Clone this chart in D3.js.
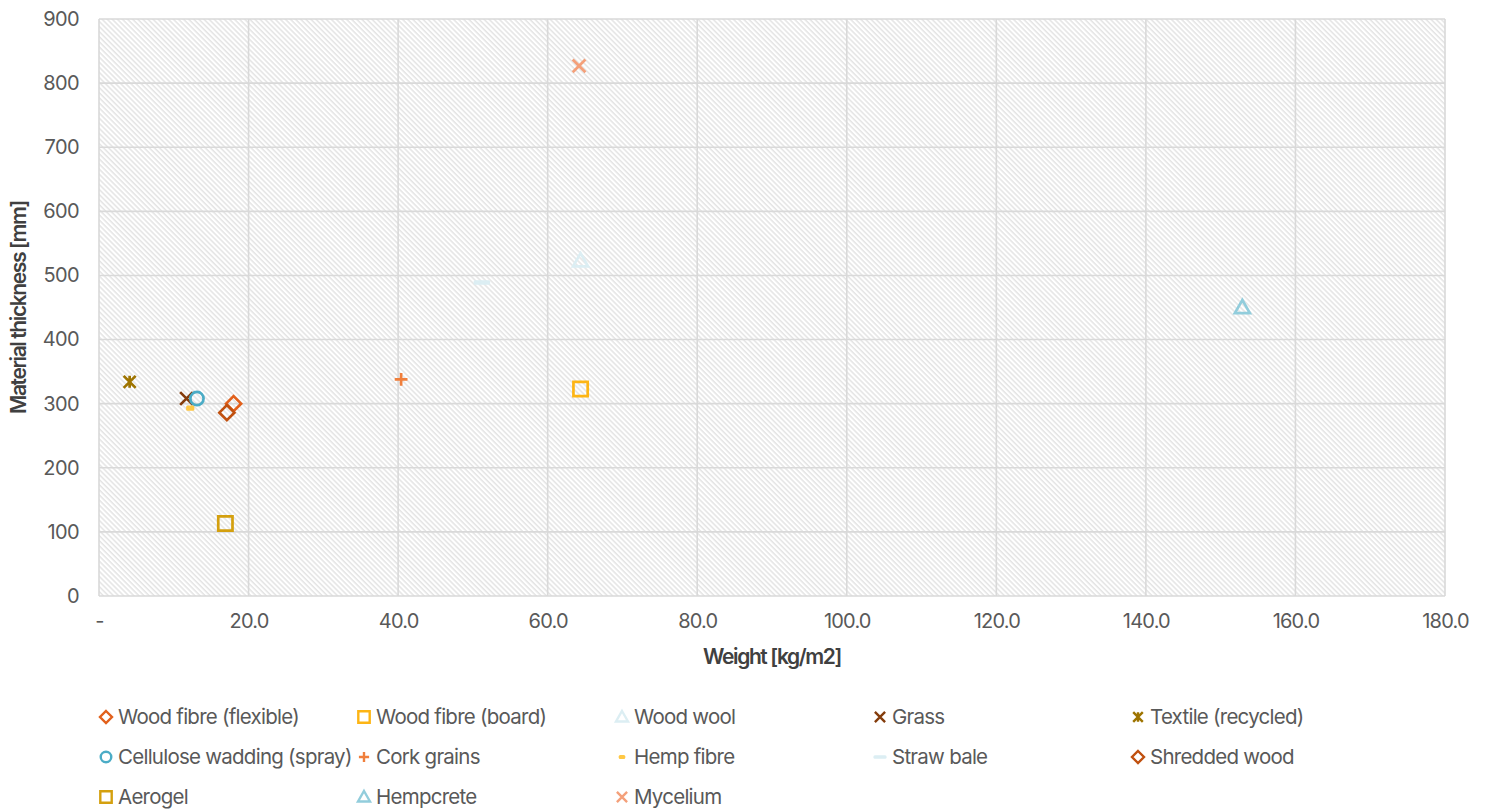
<!DOCTYPE html>
<html><head><meta charset="utf-8">
<script src="https://cdn.jsdelivr.net/npm/d3@7"></script>
<style>
body{margin:0;background:#fff;}
svg{font-family:Inter, "Open Sans", sans-serif;}
</style></head>
<body><svg id="c" width="1489" height="810"></svg>
<script>
const names = ["Wood fibre (flexible)","Wood fibre (board)","Wood wool","Grass","Textile (recycled)",
  "Cellulose wadding (spray)","Cork grains","Hemp fibre","Straw bale","Shredded wood",
  "Aerogel","Hempcrete","Mycelium"];
const weights = [18.0, 64.4, 64.4, 11.7, 4.1, 13.1, 40.4, 12.2, 51.2, 17.1, 16.9, 152.9, 64.2];
const thickness = [300, 323, 523, 308, 334, 308, 338, 293, 489, 286, 113, 450, 827];
const xTicks = [0,20,40,60,80,100,120,140,160,180];
const yTicks = [0,100,200,300,400,500,600,700,800,900];

const colors = ["#E2601B","#FDB515","#DCEEF3","#843C0C","#9E7400","#4BACC6","#F07F3C","#FFC845","#DCEEF3","#C0500F","#D4A00F","#92CDDC","#F4A07A"];
const shapes = ["diamond","square","triangle","x","star","circle","plus","dashSmall","dash","diamond","square","triangle","x"];

const svg = d3.select("#c");
const M = {l:99, r:1445, t:19, b:596};
const x = d3.scaleLinear().domain([0,180]).range([M.l, M.r]);
const y = d3.scaleLinear().domain([0,900]).range([M.b, M.t]);

const defs = svg.append("defs");
const pat = defs.append("pattern").attr("id","hatch").attr("patternUnits","userSpaceOnUse")
  .attr("width",3.6).attr("height",3.6).attr("patternTransform","rotate(-45)");
pat.append("rect").attr("width",3.6).attr("height",3.6).attr("fill","#fff");
pat.append("line").attr("x1",1).attr("y1",0).attr("x2",1).attr("y2",3.6).attr("stroke","#dadada").attr("stroke-width",1.1);

svg.append("rect").attr("x",M.l).attr("y",M.t).attr("width",M.r-M.l).attr("height",M.b-M.t).attr("fill","url(#hatch)");

// grid
const g = svg.append("g");
g.selectAll(".gx").data(xTicks).join("line").attr("x1",d=>x(d)).attr("x2",d=>x(d)).attr("y1",M.t).attr("y2",M.b)
  .attr("stroke","#d9d9d9").attr("stroke-width",1.6);
g.selectAll(".gy").data(yTicks).join("line").attr("class","gy").attr("y1",d=>y(d)).attr("y2",d=>y(d)).attr("x1",M.l).attr("x2",M.r)
  .attr("stroke","#d9d9d9").attr("stroke-width",1.6);

// axes
const xAxis = d3.axisBottom(x).tickValues(xTicks).tickSize(0).tickPadding(0)
  .tickFormat(d => d===0 ? "-" : d3.format(".1f")(d));
svg.append("g").attr("transform",`translate(0,${M.b+18})`).call(xAxis)
  .call(a=>a.select(".domain").remove())
  .selectAll("text").attr("fill","#595959").attr("font-size",20).attr("font-family","Inter, sans-serif").attr("letter-spacing","-0.8").attr("dy","0.71em");
const yAxis = d3.axisLeft(y).tickValues(yTicks).tickSize(0).tickPadding(20);
svg.append("g").attr("transform",`translate(${M.l},0)`).call(yAxis)
  .call(a=>a.select(".domain").remove())
  .selectAll("text").attr("fill","#595959").attr("font-size",20).attr("font-family","Inter, sans-serif").attr("letter-spacing","-0.6");

svg.append("text").attr("x",(M.l+M.r)/2).attr("y",664).attr("text-anchor","middle").attr("fill","#404040")
  .attr("font-size",21).attr("font-weight",600).attr("letter-spacing","-1.4").text("Weight [kg/m2]");
svg.append("text").attr("transform",`translate(26,${(M.t+M.b)/2}) rotate(-90)`).attr("text-anchor","middle").attr("fill","#404040")
  .attr("font-size",21).attr("font-weight",600).attr("letter-spacing","-1.4").text("Material thickness [mm]");

function shapePath(s, k){
  const p = d3.path();
  if(s==="diamond"){ p.moveTo(0,-k); p.lineTo(k,0); p.lineTo(0,k); p.lineTo(-k,0); p.closePath(); }
  else if(s==="square"){ p.rect(-k*0.95,-k*0.95,k*1.9,k*1.9); }
  else if(s==="triangle"){ p.moveTo(0,-k); p.lineTo(k,k*0.75); p.lineTo(-k,k*0.75); p.closePath(); }
  else if(s==="x"){ const a=k*0.85; p.moveTo(-a,-a); p.lineTo(a,a); p.moveTo(a,-a); p.lineTo(-a,a); }
  else if(s==="star"){ const a=k*0.8; p.moveTo(-a,-a); p.lineTo(a,a); p.moveTo(a,-a); p.lineTo(-a,a); p.moveTo(0,-a); p.lineTo(0,a); }
  else if(s==="plus"){ const a=k*0.85; p.moveTo(-a,0); p.lineTo(a,0); p.moveTo(0,-a); p.lineTo(0,a); }
  else if(s==="circle"){ p.arc(0,0,k*0.88,0,Math.PI*2); }
  return p.toString();
}
function drawMarker(sel, i, k){
  const s = shapes[i], c = colors[i];
  if(s==="dashSmall"){
    sel.append("rect").attr("x",-k*0.55).attr("y",-k*0.35).attr("width",k*1.1).attr("height",k*0.7).attr("rx",1.5).attr("fill",c);
  } else if(s==="dash"){
    sel.append("rect").attr("x",-k*1.1).attr("y",-k*0.3).attr("width",k*2.2).attr("height",k*0.6).attr("rx",1.5).attr("fill",c);
  } else {
    sel.append("path").attr("d",shapePath(s,k)).attr("fill","none").attr("stroke",c).attr("stroke-width",k>6.5?2.7:2.4);
  }
}

const pts = svg.append("g");
names.forEach((n,i)=>{
  const gp = pts.append("g").attr("transform",`translate(${x(weights[i])},${y(thickness[i])})`);
  drawMarker(gp, i, 7.5);
});

// legend
const leg = svg.append("g");
names.forEach((n,i)=>{
  const col = i%5, row = Math.floor(i/5);
  const lx = 106 + col*258, ly = 717 + row*40;
  const gl = leg.append("g").attr("transform",`translate(${lx},${ly})`);
  drawMarker(gl, i, 6);
  gl.append("text").attr("x",12).attr("y",0).attr("dy","0.36em").attr("fill","#595959").attr("font-size",20.5)
    .attr("letter-spacing","-0.75").text(n);
});
</script></body></html>
